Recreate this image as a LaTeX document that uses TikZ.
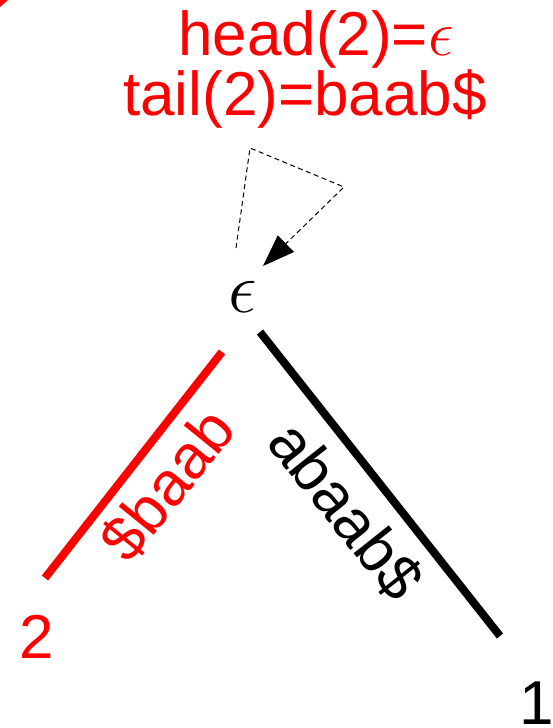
\documentclass[tikz,border=0pt]{standalone}
\usepackage{fontspec}
\setmainfont{Liberation Sans}
\usetikzlibrary{arrows.meta}
\definecolor{pred}{RGB}{255,0,0}
\newcommand{\bigeps}[1]{\scalebox{#1}{\fontsize{24.88}{30}\selectfont$\epsilon$}}
\begin{document}
\begin{tikzpicture}[x=1pt,y=-1pt,
  lbl/.style={font=\fontsize{62}{62}\selectfont, inner sep=0pt},
  edgeline/.style={line width=8pt},
  loopline/.style={line width=1pt, dash pattern=on 5pt off 3.5pt, -{Triangle[length=32pt,width=23pt]}}]
\useasboundingbox (0,0) rectangle (552,728);
\fill[pred] (0,0) -- (8,0) -- (0,7) -- cycle;
% labels at top
\node[lbl, text=pred, anchor=base] (head) at (316,55) {head(2)=\bigeps{2.6}};
\node[lbl, text=pred, anchor=base] (tail) at (305,115) {tail(2)=baab\$};
% root
\node[inner sep=0pt] (root) at (243,297) {\bigeps{2.9}};
% self loop
\coordinate (l0) at (236,248);
\coordinate (l1) at (250,148);
\coordinate (l2) at (344,187);
\coordinate (l3) at (263,266);
\draw[loopline] (l0) -- (l1) -- (l2) -- (l3);
% edges
\coordinate (r0) at (222,352);
\coordinate (r1) at (45,578);
\coordinate (b0) at (260,332);
\coordinate (b1) at (500,636);
\draw[edgeline, draw=pred] (r0) -- (r1);
\draw[edgeline, draw=black] (b0) -- (b1);
% edge labels
\node[lbl, text=pred, rotate=51] (lred) at (168,485) {\$baab};
\node[lbl, text=black, rotate=-51.5] (lblack) at (346,511) {abaab\$};
% leaves
\node[lbl, text=pred] (leaf2) at (37,637) {2};
\node[lbl, text=black] (leaf1) at (537,703) {1};
\end{tikzpicture}
\end{document}
